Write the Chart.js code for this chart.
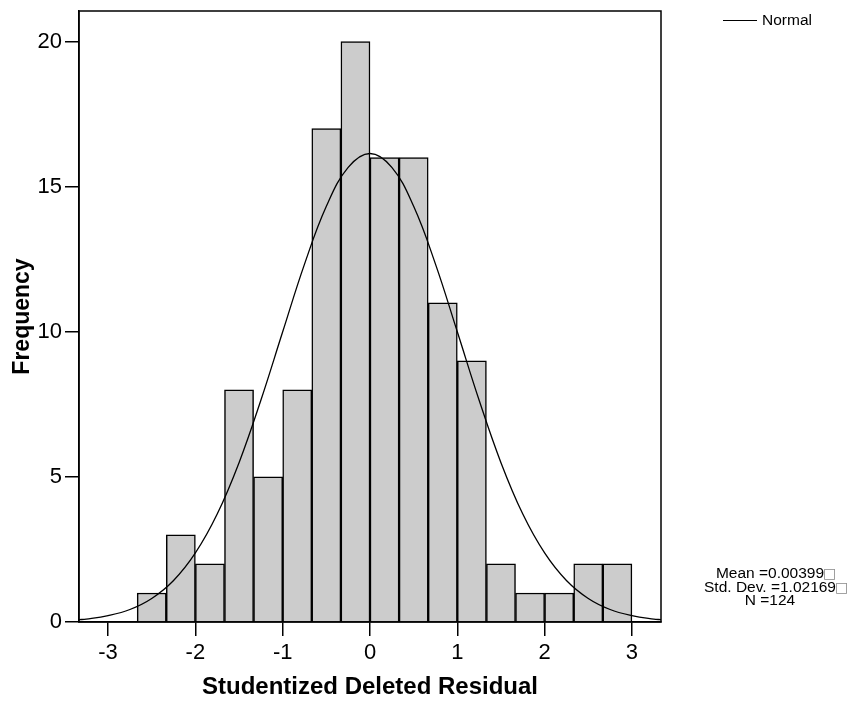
<!DOCTYPE html>
<html>
<head>
<meta charset="utf-8">
<script src="https://cdn.jsdelivr.net/npm/chart.js@4.4.0/dist/chart.umd.min.js"></script>
<style>
  html, body { margin: 0; padding: 0; background: #fff; }
  #wrap { width: 855px; height: 702px; position: relative; }
</style>
</head>
<body>
<div id="wrap"><canvas id="histChart"></canvas></div>
<script>
// 直方图的组中值（组宽 1/3）
var binCenters = [-2.5, -2.1667, -1.8333, -1.5, -1.1667, -0.8333, -0.5, -0.1667,
                  0.1667, 0.5, 0.8333, 1.1667, 1.5, 1.8333, 2.1667, 2.5, 2.8333];
var frequencies = [1, 3, 2, 8, 5, 8, 17, 20, 16, 16, 11, 9, 2, 1, 1, 2, 2];

// 正态曲线
var curveX = [-3.333, -3.25, -3, -2.75, -2.5, -2.25, -2, -1.75, -1.5, -1.25, -1, -0.75, -0.5, -0.25, 0,
              0.25, 0.5, 0.75, 1, 1.25, 1.5, 1.75, 2, 2.25, 2.5, 2.75, 3, 3.25, 3.333];
var curveY = [0.08, 0.10, 0.22, 0.43, 0.81, 1.43, 2.38, 3.72, 5.49, 7.64, 10.0, 12.33, 14.32, 15.66, 16.14,
              15.66, 14.32, 12.33, 10.0, 7.64, 5.49, 3.72, 2.38, 1.43, 0.81, 0.43, 0.22, 0.10, 0.08];

var xTicks = [-3, -2, -1, 0, 1, 2, 3];
var yTicks = [0, 5, 10, 15, 20];

var statsLines = ["Mean =0.00399", "Std. Dev. =1.02169", "N =124"];
var statsTail = ["\u25A1", "\u25A1", ""];
var legendLabel = "Normal";

var FONT = "Arial, 'Liberation Sans', sans-serif";

// 边框、图例和统计文字
var framePlugin = {
    id: 'frame',
    afterDraw: function (chart) {
        var ctx = chart.ctx;
        var a = chart.chartArea;
        ctx.save();
        ctx.strokeStyle = '#000';
        ctx.lineWidth = 1.5;
        ctx.strokeRect(a.left, a.top, a.right - a.left, a.bottom - a.top);

        // 图例
        ctx.lineWidth = 1;
        ctx.beginPath();
        ctx.moveTo(723, 20.5);
        ctx.lineTo(757, 20.5);
        ctx.stroke();
        ctx.fillStyle = '#000';
        ctx.font = "15.5px " + FONT;
        ctx.textBaseline = 'middle';
        ctx.textAlign = 'left';
        ctx.fillText(legendLabel, 762, 21);

        // 统计
        ctx.font = "15.5px " + FONT;
        for (var i = 0; i < statsLines.length; i++) {
            var w = ctx.measureText(statsLines[i]).width;
            var y = 574 + i * 13.5;
            ctx.textAlign = 'left';
            ctx.fillText(statsLines[i], 770 - w / 2, y);
            if (statsTail[i]) {
                ctx.font = "14px 'DejaVu Sans', sans-serif";
                ctx.fillStyle = '#888';
                ctx.fillText(statsTail[i], 770 + w / 2 - 1, y + 0.5);
                ctx.fillStyle = '#000';
                ctx.font = "15.5px " + FONT;
            }
        }
        ctx.restore();
    }
};

document.addEventListener("DOMContentLoaded", function () {
    var ctx = document.getElementById('histChart').getContext('2d');

    var barData = binCenters.map(function (x, i) { return { x: x, y: frequencies[i] }; });
    var lineData = curveX.map(function (x, i) { return { x: x, y: curveY[i] }; });

    new Chart(ctx, {
        type: 'bar',
        data: {
            datasets: [{
                type: 'line',
                label: legendLabel,
                data: lineData,
                borderColor: '#000',
                borderWidth: 1.3,
                pointRadius: 0,
                tension: 0.4,
                fill: false,
                order: 0
            }, {
                type: 'bar',
                label: 'Frequency',
                data: barData,
                backgroundColor: '#cccccc',
                borderColor: '#000',
                borderWidth: 1.5,
                barPercentage: 1.0,
                categoryPercentage: 1.0,
                order: 1
            }]
        },
        options: {
            responsive: true,
            maintainAspectRatio: false,
            animation: false,
            layout: { padding: { top: 11, right: 194, left: 0, bottom: 0 } },
            plugins: {
                legend: { display: false },
                tooltip: { enabled: false }
            },
            scales: {
                x: {
                    type: 'linear',
                    min: -3.333,
                    max: 3.333,
                    offset: false,
                    afterBuildTicks: function (scale) {
                        scale.ticks = xTicks.map(function (v) { return { value: v }; });
                    },
                    afterFit: function (scale) {
                        scale.height = 80;
                        scale.paddingLeft = 0;
                        scale.paddingRight = 0;
                    },
                    grid: { offset: false, drawOnChartArea: false, tickLength: 14, color: '#000', lineWidth: 1.5 },
                    border: { color: '#000', width: 1.5 },
                    ticks: { color: '#000', font: { family: FONT, size: 22 }, padding: 4, maxRotation: 0 },
                    title: {
                        display: true,
                        text: 'Studentized Deleted Residual',
                        color: '#000',
                        font: { family: FONT, size: 24, weight: 'bold' },
                        padding: { top: 0, bottom: 0 }
                    }
                },
                y: {
                    min: 0,
                    max: 21.05,
                    afterBuildTicks: function (scale) {
                        scale.ticks = yTicks.map(function (v) { return { value: v }; });
                    },
                    afterFit: function (scale) {
                        scale.width = 79;
                        scale.paddingTop = 0;
                        scale.paddingBottom = 0;
                    },
                    grid: { drawOnChartArea: false, tickLength: 14, color: '#000', lineWidth: 1.5 },
                    border: { color: '#000', width: 1.5 },
                    ticks: { color: '#000', font: { family: FONT, size: 22 }, padding: 3 },
                    title: {
                        display: true,
                        text: 'Frequency',
                        color: '#000',
                        font: { family: FONT, size: 23, weight: 'bold' },
                        padding: { top: 9, bottom: 0 }
                    }
                }
            }
        },
        plugins: [framePlugin]
    });
});
</script>
</body>
</html>
